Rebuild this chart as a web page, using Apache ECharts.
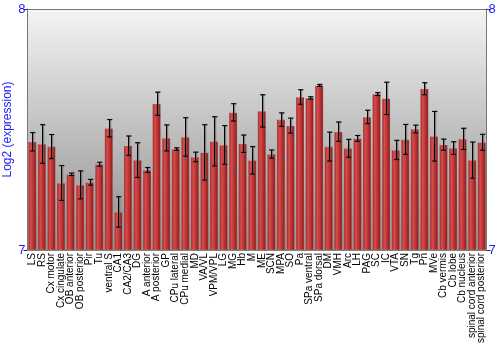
<!DOCTYPE html>
<html><head><meta charset="utf-8">
<script src="https://cdn.jsdelivr.net/npm/echarts@6/dist/echarts.min.js"></script>
<style>html,body{margin:0;padding:0;background:#fff}#c{width:500px;height:350px}</style>
</head><body><div id="c"></div>
<script>
const categories = ["LS","RS","Cx motor","Cx cingulate","OB anterior","OB posterior","Pir","Tu","ventral S","CA1","CA2/CA3","DG","A anterior","A posterior","GP","CPu lateral","CPu medial","MD","VA/VL","VPM/VPL","LG","MG","Hb","M","ME","SCN","MPA","SO","Pa","SPa ventral","SPa dorsal","DM","VMH","Arc","LH","PAG","SC","IC","VTA","SN","Tg","Pn","MVe","Cb vermis","Cb lobe","Cb nucleus","spinal cord anterior","spinal cord posterior"];
const values = [7.449,7.440,7.429,7.278,7.314,7.270,7.281,7.356,7.505,7.158,7.433,7.373,7.332,7.607,7.465,7.419,7.469,7.386,7.405,7.451,7.436,7.571,7.441,7.372,7.577,7.398,7.541,7.516,7.635,7.631,7.683,7.429,7.491,7.422,7.463,7.552,7.647,7.629,7.415,7.459,7.502,7.669,7.472,7.437,7.423,7.461,7.373,7.447];
const errors = [0.038,0.080,0.050,0.072,0.005,0.058,0.012,0.008,0.036,0.063,0.040,0.072,0.010,0.048,0.054,0.005,0.080,0.020,0.115,0.102,0.080,0.036,0.036,0.057,0.067,0.017,0.028,0.031,0.030,0.005,0.004,0.060,0.040,0.037,0.012,0.028,0.006,0.067,0.040,0.062,0.016,0.025,0.103,0.023,0.026,0.044,0.075,0.033];
const yTicks = [7, 8];

const errData = values.map((v, i) => [i, v - errors[i], v + errors[i]]);
const blue = '#1a1aff';
const chart = echarts.init(document.getElementById('c'));
chart.setOption({
  animation: false,
  grid: {left: 27.5, right: 13.5, top: 9, bottom: 100, show: true, borderWidth: 0,
    containLabel: false, outerBoundsMode: 'none',
    backgroundColor: new echarts.graphic.LinearGradient(0, 0, 0, 1, [
      {offset: 0, color: '#f4f4f4'}, {offset: 1, color: '#8c8c8c'}])},
  xAxis: {type: 'category', data: categories,
    axisLine: {show: false}, axisTick: {show: false},
    axisLabel: {rotate: 90, interval: 0, fontSize: 10, color: '#000', fontFamily: 'Liberation Sans', margin: 3}},
  yAxis: [
    {type: 'value', min: yTicks[0], max: yTicks[1], interval: 1,
      name: 'Log2 (expression)', nameLocation: 'middle', nameGap: 13.5, nameMoveOverlap: false,
      nameTextStyle: {color: blue, fontSize: 12, fontFamily: 'Liberation Sans'},
      axisLine: {show: true, lineStyle: {color: '#777'}},
      axisTick: {show: true, length: 4, lineStyle: {color: '#333'}},
      axisLabel: {color: blue, fontSize: 13, fontFamily: 'Liberation Sans', margin: 2},
      splitLine: {show: true, lineStyle: {color: '#777'}}},
    {type: 'value', min: yTicks[0], max: yTicks[1], interval: 1, position: 'right',
      axisLine: {show: true, lineStyle: {color: '#777'}},
      axisTick: {show: true, length: 4, lineStyle: {color: '#333'}},
      axisLabel: {color: blue, fontSize: 13, fontFamily: 'Liberation Sans', margin: 2},
      splitLine: {show: false}}
  ],
  series: [
    {type: 'bar', data: values, barWidth: '88%',
      itemStyle: {
        color: new echarts.graphic.LinearGradient(0, 0, 1, 0, [
          {offset: 0, color: '#921e1e'}, {offset: 0.3, color: '#d84c4c'},
          {offset: 0.6, color: '#bc3434'}, {offset: 1, color: '#821a1a'}]),
        borderColor: 'rgba(210,210,210,0.5)', borderWidth: 0.5}},
    {type: 'custom', data: errData, z: 5,
      renderItem: function (params, api) {
        const i = api.value(0);
        const lo = api.coord([i, api.value(1)]);
        const hi = api.coord([i, api.value(2)]);
        const x = Math.round(lo[0]) + 0.5;
        const w = 2.5;
        const mk = (dx, col, lw) => ({type: 'group', children: [
          {type: 'line', shape: {x1: x + dx, y1: hi[1], x2: x + dx, y2: lo[1]}, style: {stroke: col, lineWidth: lw}},
          {type: 'line', shape: {x1: x + dx - w, y1: hi[1], x2: x + dx + w, y2: hi[1]}, style: {stroke: col, lineWidth: lw}},
          {type: 'line', shape: {x1: x + dx - w, y1: lo[1], x2: x + dx + w, y2: lo[1]}, style: {stroke: col, lineWidth: lw}}
        ]});
        return {type: 'group', children: [mk(1, 'rgba(90,90,90,0.6)', 1.5), mk(0, '#000', 1)]};
      }}
  ]
});
</script></body></html>
